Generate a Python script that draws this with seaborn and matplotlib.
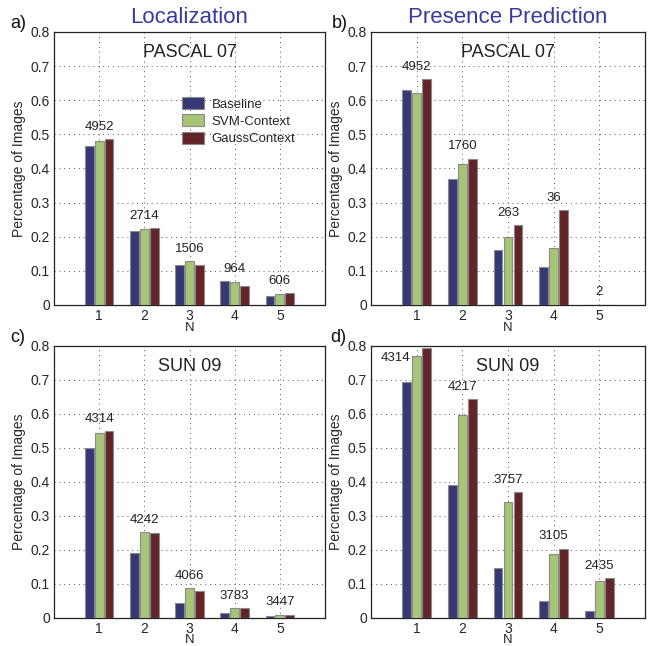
import numpy as np
import pandas as pd
import matplotlib
matplotlib.use("Agg")
import matplotlib.pyplot as plt
import seaborn as sns

sns.set_style("white")
plt.rcParams['font.family'] = ['Liberation Sans', 'DejaVu Sans']

n_values = [1, 2, 3, 4, 5]
methods = ["Baseline", "SVM-Context", "GaussContext"]
colors = {"Baseline": "#2b2e80", "SVM-Context": "#a9d26a", "GaussContext": "#6d1a1f"}

# a) Localization, PASCAL 07
loc_pascal_base = [0.467, 0.217, 0.118, 0.070, 0.027]
loc_pascal_svm = [0.480, 0.222, 0.128, 0.066, 0.032]
loc_pascal_gauss = [0.485, 0.225, 0.116, 0.056, 0.035]
loc_pascal_counts = [4952, 2714, 1506, 964, 606]

# b) Presence Prediction, PASCAL 07
pres_pascal_base = [0.630, 0.369, 0.160, 0.111, 0.001]
pres_pascal_svm = [0.622, 0.412, 0.200, 0.166, 0.001]
pres_pascal_gauss = [0.661, 0.429, 0.235, 0.277, 0.001]
pres_pascal_counts = [4952, 1760, 263, 36, 2]

# c) Localization, SUN 09
loc_sun_base = [0.498, 0.190, 0.044, 0.012, 0.004]
loc_sun_svm = [0.543, 0.251, 0.086, 0.028, 0.009]
loc_sun_gauss = [0.548, 0.250, 0.078, 0.028, 0.008]
loc_sun_counts = [4314, 4242, 4066, 3783, 3447]

# d) Presence Prediction, SUN 09
pres_sun_base = [0.693, 0.391, 0.147, 0.048, 0.018]
pres_sun_svm = [0.768, 0.597, 0.339, 0.187, 0.107]
pres_sun_gauss = [0.793, 0.642, 0.369, 0.203, 0.115]
pres_sun_counts = [4314, 4217, 3757, 3105, 2435]

panels = [
    ("a)", "PASCAL 07", [loc_pascal_base, loc_pascal_svm, loc_pascal_gauss], loc_pascal_counts),
    ("b)", "PASCAL 07", [pres_pascal_base, pres_pascal_svm, pres_pascal_gauss], pres_pascal_counts),
    ("c)", "SUN 09", [loc_sun_base, loc_sun_svm, loc_sun_gauss], loc_sun_counts),
    ("d)", "SUN 09", [pres_sun_base, pres_sun_svm, pres_sun_gauss], pres_sun_counts),
]

fig = plt.figure(figsize=(6.61, 6.46), dpi=100)
rects = [
    [0.0817, 0.5279, 0.410, 0.4226],
    [0.5613, 0.5279, 0.4145, 0.4226],
    [0.0817, 0.0440, 0.410, 0.4210],
    [0.5613, 0.0440, 0.4145, 0.4210],
]
tag_x = [0.016, 0.502, 0.016, 0.499]

for i, (tag, dataset, series, counts) in enumerate(panels):
    ax = fig.add_axes(rects[i])
    rows = []
    for m, vals in zip(methods, series):
        for n, v in zip(n_values, vals):
            rows.append({"N": str(n), "method": m, "value": v})
    df = pd.DataFrame(rows)
    sns.barplot(data=df, x="N", y="value", hue="method", hue_order=methods,
                palette=colors, width=0.66, gap=0.12, edgecolor="#8a8a8a",
                linewidth=0.8, ax=ax, legend=(i == 0), zorder=3)
    ax.set_xlim(-1, 5)
    ax.set_ylim(0, 0.8)
    ax.set_yticks(np.arange(0, 0.81, 0.1))
    ax.set_yticklabels(["0"] + [f"{t:.1f}" for t in np.arange(0.1, 0.81, 0.1)])
    ax.grid(True, linestyle=(0, (1, 4)), color="#555555", linewidth=0.7)
    ax.tick_params(length=0, labelsize=10, pad=3)
    ax.set_xlabel("N", fontsize=9.5, labelpad=-1)
    ax.set_ylabel("Percentage of Images", fontsize=10, labelpad=3)
    for s in ax.spines.values():
        s.set_color("#222222")
        s.set_linewidth(0.9)

    ax.text(0.5, 0.925, dataset, transform=ax.transAxes, ha="center",
            va="center", fontsize=13, color="#222222")

    for k, c in enumerate(counts):
        top = max(series[j][k] for j in range(3))
        if top + 0.05 > 0.78:
            ax.text(k - 0.13, series[1][k] - 0.005, str(c), ha="right",
                    va="center", fontsize=9.5, color="#222222", zorder=4)
        else:
            ax.text(k, top + 0.018, str(c), ha="center", va="bottom",
                    fontsize=9.5, color="#222222", zorder=4)

    if i == 0:
        ax.legend(loc="upper left", bbox_to_anchor=(0.43, 0.805), frameon=False,
                  fontsize=9.5, handlelength=1.6, handleheight=1.0,
                  labelspacing=0.3, handletextpad=0.6)

    fig.text(tag_x[i], rects[i][1] + rects[i][3] + 0.013, tag,
             fontsize=13, ha="left", va="center", color="#111111")

fig.text(0.2867, 0.9735, "Localization", ha="center", va="center",
         fontsize=16, color="#3a3a9e")
fig.text(0.768, 0.9735, "Presence Prediction", ha="center", va="center",
         fontsize=16, color="#3a3a9e")

fig.savefig("out.png", dpi=100)
